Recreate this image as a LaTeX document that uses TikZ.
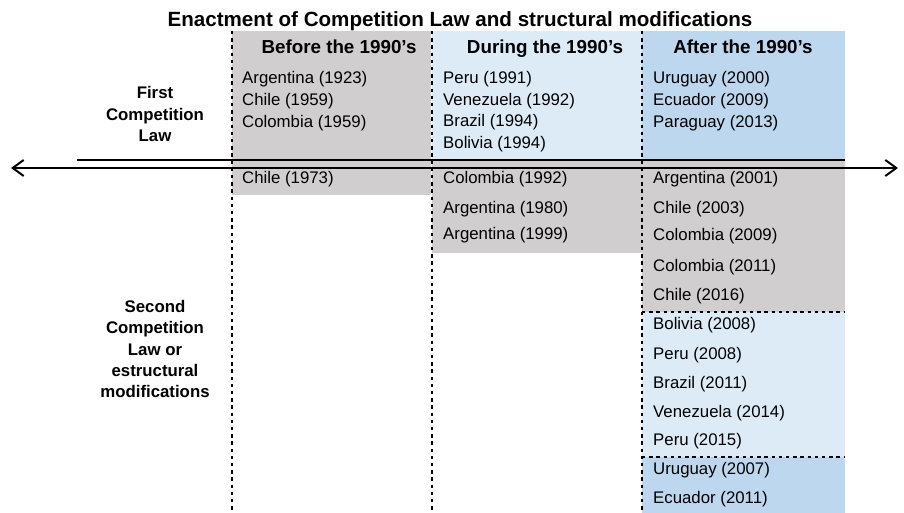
\documentclass[tikz,border=0pt]{standalone}
\usepackage{fontspec}
\setmainfont{Liberation Sans}
\usetikzlibrary{arrows.meta}
\definecolor{cgray}{HTML}{D0CECE}
\definecolor{clight}{HTML}{DDEBF7}
\definecolor{cmid}{HTML}{BDD7EE}
\tikzset{
  entry/.style={anchor=base west, inner sep=0pt, font=\fontsize{16.8}{20}\selectfont},
  colhead/.style={anchor=base, inner sep=0pt, font=\fontsize{18.8}{22}\selectfont\bfseries},
  rowhead/.style={anchor=center, inner sep=0pt, align=center, font=\fontsize{16.8}{21.2}\selectfont\bfseries},
  divider/.style={dash pattern=on 3.4pt off 3.8pt, line width=1.8pt},
  timeline/.style={line width=2.2pt, {Straight Barb[length=11pt,width=16pt,line width=2pt]}-{Straight Barb[length=11pt,width=16pt,line width=2pt]}},
  splitline/.style={line width=1.6pt}
}
\begin{document}
\begin{tikzpicture}[x=1pt,y=-1pt]
\useasboundingbox (0,0) rectangle (904,513);
% background blocks
\fill[cgray]  (232,31) rectangle (431,195);
\fill[clight] (432,31) rectangle (642,160);
\fill[cgray]  (432,160) rectangle (642,253);
\fill[cmid]   (642,31) rectangle (845,160);
\fill[cgray]  (642,160) rectangle (845,312);
\fill[clight] (642,312) rectangle (845,457);
\fill[cmid]   (642,457) rectangle (845,513);
% title
\node[anchor=base, inner sep=0pt, font=\fontsize{20.6}{24}\selectfont\bfseries] (title) at (460,27) {Enactment of Competition Law and structural modifications};
% column headers
\node[colhead] (hbefore) at (339,54) {Before the 1990’s};
\node[colhead] (hduring) at (545,54) {During the 1990’s};
\node[colhead] (hafter) at (743,54) {After the 1990’s};
% row headers
\node[rowhead] (rfirst) at (155,114) {First\\Competition\\Law};
\node[rowhead] (rsecond) at (155,349) {Second\\Competition\\Law or\\estructural\\modifications};
% dashed dividers
\coordinate (d1t) at (232,31); \coordinate (d1b) at (232,513);
\coordinate (d2t) at (432,31); \coordinate (d2b) at (432,513);
\coordinate (d3t) at (642,31); \coordinate (d3b) at (642,513);
\draw[divider] (d1t) -- (d1b);
\draw[divider] (d2t) -- (d2b);
\draw[divider] (d3t) -- (d3b);
\coordinate (h1l) at (642,312); \coordinate (h1r) at (845,312);
\coordinate (h2l) at (642,457); \coordinate (h2r) at (845,457);
\draw[divider] (h1l) -- (h1r);
\draw[divider] (h2l) -- (h2r);
% split line and timeline
\coordinate (sl) at (77,160); \coordinate (sr) at (845,160);
\draw[splitline] (sl) -- (sr);
\coordinate (tl) at (11,168); \coordinate (tr) at (898,168);
\draw[timeline] (tl) -- (tr);
% before the 1990's
\node[entry] (b1) at (242,84) {Argentina (1923)};
\node[entry] (b2) at (242,106) {Chile (1959)};
\node[entry] (b3) at (242,128) {Colombia (1959)};
\node[entry] (b4) at (242,183) {Chile (1973)};
% during the 1990's
\node[entry] (u1) at (443,84) {Peru (1991)};
\node[entry] (u2) at (443,105.5) {Venezuela (1992)};
\node[entry] (u3) at (443,127) {Brazil (1994)};
\node[entry] (u4) at (443,148.5) {Bolivia (1994)};
\node[entry] (u5) at (443,183) {Colombia (1992)};
\node[entry] (u6) at (443,213) {Argentina (1980)};
\node[entry] (u7) at (443,239) {Argentina (1999)};
% after the 1990's
\node[entry] (a1) at (653,84) {Uruguay (2000)};
\node[entry] (a2) at (653,106) {Ecuador (2009)};
\node[entry] (a3) at (653,128) {Paraguay (2013)};
\node[entry] (a4) at (653,183) {Argentina (2001)};
\node[entry] (a5) at (653,213) {Chile (2003)};
\node[entry] (a6) at (653,240) {Colombia (2009)};
\node[entry] (a7) at (653,271) {Colombia (2011)};
\node[entry] (a8) at (653,300) {Chile (2016)};
\node[entry] (a9) at (653,329) {Bolivia (2008)};
\node[entry] (a10) at (653,359) {Peru (2008)};
\node[entry] (a11) at (653,388) {Brazil (2011)};
\node[entry] (a12) at (653,417) {Venezuela (2014)};
\node[entry] (a13) at (653,445) {Peru (2015)};
\node[entry] (a14) at (653,474) {Uruguay (2007)};
\node[entry] (a15) at (653,503) {Ecuador (2011)};
\end{tikzpicture}
\end{document}
